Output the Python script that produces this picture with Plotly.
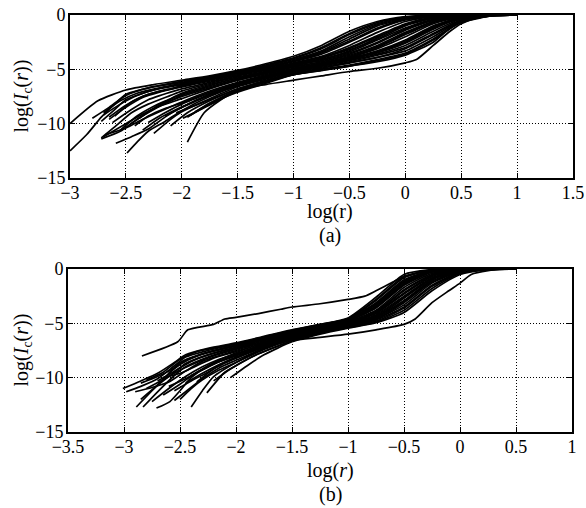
import plotly.graph_objects as go

# ---------------- Panel (a): log(Ic(r)) vs log(r) ----------------
a01 = [(-3, -10), (-2.75, -7.9), (-2.5, -6.9), (-2.25, -6.4), (-2, -6.0), (-1.75, -5.6), (-1.5, -5.1), (-1.25, -4.5), (-1, -3.8), (-0.75, -2.8), (-0.5, -1.5), (-0.25, -0.6), (0, -0.15), (0.25, 0)]
a02 = [(-3, -12.5), (-2.85, -11), (-2.72, -9.4), (-2.6, -8.2), (-2.5, -7.3), (-2.25, -6.6), (-2, -6.1), (-1.75, -5.7), (-1.5, -5.2), (-1.25, -4.7), (-1, -4.0), (-0.75, -3.1), (-0.5, -1.8), (-0.25, -0.8), (0, -0.25), (0.25, -0.05), (0.5, 0)]
a03 = [(-2.72, -9.8), (-2.6, -8.7), (-2.5, -7.8), (-2.25, -6.9), (-2, -6.3), (-1.75, -5.8), (-1.5, -5.3), (-1.25, -4.8), (-1, -4.2), (-0.75, -3.4), (-0.5, -2.2), (-0.25, -1.0), (0, -0.35), (0.25, -0.1), (0.5, 0)]
a04 = [(-2.7, -9.2), (-2.55, -8.2), (-2.4, -7.4), (-2.25, -6.9), (-2, -6.4), (-1.75, -5.9), (-1.5, -5.4), (-1.25, -4.9), (-1, -4.3), (-0.75, -3.6), (-0.5, -2.5), (-0.25, -1.3), (0, -0.45), (0.25, -0.1), (0.5, 0)]
a05 = [(-2.65, -9.6), (-2.5, -8.5), (-2.35, -7.6), (-2.2, -7.1), (-2, -6.6), (-1.75, -6.0), (-1.5, -5.5), (-1.25, -5.0), (-1, -4.4), (-0.75, -3.8), (-0.5, -2.8), (-0.25, -1.6), (0, -0.6), (0.25, -0.15), (0.5, 0)]
a06 = [(-2.62, -9.9), (-2.45, -8.7), (-2.3, -7.8), (-2.1, -7.1), (-2, -6.8), (-1.75, -6.2), (-1.5, -5.6), (-1.25, -5.1), (-1, -4.5), (-0.75, -3.9), (-0.5, -3.0), (-0.25, -1.9), (0, -0.8), (0.25, -0.2), (0.5, -0.02), (0.75, 0)]
a07 = [(-2.72, -11.3), (-2.6, -10.3), (-2.45, -9.0), (-2.3, -8.2), (-2.1, -7.4), (-2, -7.0), (-1.75, -6.3), (-1.5, -5.7), (-1.25, -5.2), (-1, -4.6), (-0.75, -4.0), (-0.5, -3.1), (-0.25, -2.0), (0, -0.9), (0.25, -0.3), (0.5, -0.05), (0.75, 0)]
a08 = [(-2.72, -11.4), (-2.55, -10.7), (-2.4, -9.6), (-2.25, -8.7), (-2.1, -7.9), (-2, -7.4), (-1.75, -6.6), (-1.5, -5.9), (-1.25, -5.3), (-1, -4.7), (-0.75, -4.1), (-0.5, -3.4), (-0.25, -2.3), (0, -1.2), (0.25, -0.4), (0.5, -0.08), (0.75, 0)]
a09 = [(-2.7, -11.2), (-2.5, -10.0), (-2.35, -9.1), (-2.2, -8.4), (-2, -7.7), (-1.75, -6.8), (-1.5, -6.0), (-1.25, -5.4), (-1, -4.8), (-0.75, -4.3), (-0.5, -3.6), (-0.25, -2.6), (0, -1.4), (0.25, -0.5), (0.5, -0.1), (0.75, 0)]
a10 = [(-2.68, -11.0), (-2.5, -10.4), (-2.35, -9.6), (-2.2, -8.9), (-2, -8.0), (-1.75, -7.0), (-1.5, -6.2), (-1.25, -5.5), (-1, -4.9), (-0.75, -4.4), (-0.5, -3.8), (-0.25, -2.9), (0, -1.7), (0.25, -0.6), (0.5, -0.12), (0.75, 0)]
a11 = [(-2.59, -11.8), (-2.45, -11.2), (-2.3, -10.5), (-2.15, -9.4), (-2, -8.5), (-1.75, -7.3), (-1.5, -6.4), (-1.25, -5.7), (-1, -5.0), (-0.75, -4.5), (-0.5, -3.9), (-0.25, -3.1), (0, -2.0), (0.25, -0.8), (0.5, -0.15), (0.75, 0)]
a12 = [(-2.49, -12.7), (-2.4, -11.7), (-2.3, -10.7), (-2.15, -9.8), (-2, -8.8), (-1.75, -7.5), (-1.5, -6.5), (-1.25, -5.8), (-1, -5.1), (-0.75, -4.6), (-0.5, -4.0), (-0.25, -3.3), (0, -2.3), (0.25, -1.0), (0.5, -0.2), (0.75, 0)]
a13 = [(-2.42, -10.2), (-2.3, -9.3), (-2.15, -8.6), (-2, -8.1), (-1.75, -7.1), (-1.5, -6.3), (-1.25, -5.6), (-1, -5.0), (-0.75, -4.5), (-0.5, -4.0), (-0.25, -3.4), (0, -2.5), (0.25, -1.2), (0.5, -0.25), (0.75, -0.02), (1, 0)]
a14 = [(-2.38, -9.5), (-2.25, -8.6), (-2.1, -7.9), (-2, -7.5), (-1.75, -6.7), (-1.5, -6.0), (-1.25, -5.4), (-1, -4.8), (-0.75, -4.3), (-0.5, -3.7), (-0.25, -2.8), (0, -1.6), (0.25, -0.6), (0.5, -0.1), (0.75, 0)]
a15 = [(-2.25, -10.9), (-2.1, -9.6), (-2, -8.9), (-1.75, -7.7), (-1.5, -6.6), (-1.25, -5.9), (-1, -5.2), (-0.75, -4.7), (-0.5, -4.2), (-0.25, -3.6), (0, -2.8), (0.25, -1.5), (0.5, -0.35), (0.75, -0.03), (1, 0)]
a16 = [(-1.99, -9.5), (-1.85, -8.8), (-1.7, -8.0), (-1.5, -7.0), (-1.25, -6.1), (-1, -5.4), (-0.75, -4.9), (-0.5, -4.4), (-0.25, -3.9), (0, -3.3), (0.25, -2.0), (0.5, -0.5), (0.75, -0.05), (1, 0)]
a17 = [(-1.95, -11.7), (-1.8, -9.0), (-1.65, -7.8), (-1.5, -6.9), (-1.25, -6.4), (-1, -6.0), (-0.75, -5.6), (-0.5, -5.2), (-0.25, -4.9), (0, -4.4), (0.1, -4.1), (0.25, -2.8), (0.4, -1.5), (0.5, -0.8), (0.65, -0.25), (0.8, -0.05), (0.95, 0)]
a18 = [(-2.6, -9.3), (-2.45, -8.0), (-2.3, -7.3), (-2.1, -6.8), (-2, -6.5), (-1.75, -5.9), (-1.5, -5.35), (-1.25, -4.85), (-1, -4.25), (-0.75, -3.5), (-0.5, -2.4), (-0.25, -1.2), (0, -0.4), (0.25, -0.08), (0.5, 0)]
a19 = [(-2.65, -9.4), (-2.5, -8.3), (-2.35, -7.5), (-2.2, -7.0), (-2, -6.6), (-1.75, -6.1), (-1.5, -5.5), (-1.25, -5.0), (-1, -4.5), (-0.75, -3.9), (-0.5, -3.2), (-0.25, -2.2), (0, -1.0), (0.25, -0.3), (0.5, -0.05), (0.75, 0)]
a20 = [(-2.45, -10.0), (-2.3, -8.9), (-2.15, -8.0), (-2, -7.3), (-1.75, -6.5), (-1.5, -5.8), (-1.25, -5.25), (-1, -4.65), (-0.75, -4.1), (-0.5, -3.3), (-0.25, -2.1), (0, -0.9), (0.25, -0.25), (0.5, -0.03), (0.75, 0)]
a21 = [(-2.3, -9.9), (-2.15, -9.0), (-2, -8.2), (-1.75, -7.2), (-1.5, -6.3), (-1.25, -5.6), (-1, -5.0), (-0.75, -4.5), (-0.5, -3.9), (-0.25, -3.0), (0, -1.8), (0.25, -0.7), (0.5, -0.15), (0.75, 0)]
a22 = [(-2.15, -9.3), (-2, -8.5), (-1.75, -7.4), (-1.5, -6.5), (-1.25, -5.8), (-1, -5.2), (-0.75, -4.7), (-0.5, -4.1), (-0.25, -3.5), (0, -2.6), (0.25, -1.3), (0.5, -0.3), (0.75, -0.02), (1, 0)]
a23 = [(-1.92, -9.2), (-1.75, -8.1), (-1.5, -6.9), (-1.25, -6.1), (-1, -5.4), (-0.75, -4.9), (-0.5, -4.4), (-0.25, -3.9), (0, -3.1), (0.25, -1.8), (0.5, -0.5), (0.75, -0.05), (1, 0)]
a24 = [(-1.88, -8.9), (-1.7, -7.9), (-1.5, -7.0), (-1.25, -6.2), (-1, -5.5), (-0.75, -5.0), (-0.5, -4.6), (-0.25, -4.1), (0, -3.5), (0.25, -2.2), (0.5, -0.6), (0.75, -0.08), (1, 0)]
a25 = [(-2.05, -9.0), (-1.85, -8.2), (-1.65, -7.4), (-1.5, -6.8), (-1.25, -6.0), (-1, -5.3), (-0.75, -4.8), (-0.5, -4.3), (-0.25, -3.7), (0, -3.0), (0.25, -1.7), (0.5, -0.45), (0.75, -0.04), (1, 0)]
a26 = [(-2.7, -9.0), (-2.55, -7.9), (-2.4, -7.2), (-2.2, -6.7), (-2, -6.3), (-1.75, -5.8), (-1.5, -5.2), (-1.25, -4.7), (-1, -4.1), (-0.75, -3.3), (-0.5, -2.0), (-0.25, -0.9), (0, -0.3), (0.25, -0.05), (0.5, 0)]
a27 = [(-2.55, -10.6), (-2.4, -9.3), (-2.25, -8.4), (-2.1, -7.7), (-2, -7.2), (-1.75, -6.4), (-1.5, -5.8), (-1.25, -5.2), (-1, -4.6), (-0.75, -4.2), (-0.5, -3.5), (-0.25, -2.5), (0, -1.3), (0.25, -0.45), (0.5, -0.08), (0.75, 0)]
a28 = [(-2.35, -10.6), (-2.2, -9.5), (-2.05, -8.7), (-1.9, -8.0), (-1.75, -7.3), (-1.5, -6.4), (-1.25, -5.7), (-1, -5.1), (-0.75, -4.6), (-0.5, -4.1), (-0.25, -3.4), (0, -2.4), (0.25, -1.1), (0.5, -0.25), (0.75, -0.02), (1, 0)]
a29 = [(-2.8, -9.5), (-2.65, -8.5), (-2.5, -7.4), (-2.3, -6.7), (-2, -6.2), (-1.75, -5.7), (-1.5, -5.2), (-1.25, -4.6), (-1, -3.95), (-0.75, -3.0), (-0.5, -1.7), (-0.25, -0.7), (0, -0.2), (0.25, -0.03), (0.5, 0)]
a30 = [(-1.95, -9.4), (-1.8, -8.5), (-1.6, -7.5), (-1.5, -7.1), (-1.25, -6.3), (-1, -5.5), (-0.75, -5.1), (-0.5, -4.7), (-0.25, -4.3), (0, -3.7), (0.25, -2.5), (0.4, -1.2), (0.5, -0.7), (0.75, -0.1), (1, 0)]
a31 = [(-2.1, -10.2), (-1.95, -9.0), (-1.75, -7.9), (-1.5, -6.8), (-1.25, -6.1), (-1, -5.5), (-0.75, -5.1), (-0.5, -4.7), (-0.25, -4.2), (0, -3.6), (0.25, -2.3), (0.5, -0.65), (0.75, -0.08), (1, 0)]

# ---------------- Panel (b) ----------------
b01 = [(-2.84, -8.0), (-2.52, -6.7), (-2.43, -5.6), (-2.2, -5.1), (-2.1, -4.6), (-2, -4.45), (-1.8, -4.1), (-1.6, -3.7), (-1.5, -3.5), (-1.25, -3.2), (-1, -2.8), (-0.85, -2.5), (-0.75, -2.0), (-0.6, -1.2), (-0.5, -0.7), (-0.35, -0.3), (-0.2, -0.1), (0, 0)]
b02 = [(-3.01, -11.0), (-2.85, -10.3), (-2.7, -9.6), (-2.55, -8.6), (-2.45, -7.9), (-2.25, -7.3), (-2, -6.8), (-1.75, -6.2), (-1.5, -5.6), (-1.25, -5.1), (-1, -4.5), (-0.75, -2.6), (-0.5, -0.5), (-0.25, -0.05), (0, 0)]
b03 = [(-2.98, -11.3), (-2.85, -10.8), (-2.7, -10.1), (-2.55, -8.9), (-2.45, -8.1), (-2.25, -7.5), (-2, -6.9), (-1.75, -6.3), (-1.5, -5.7), (-1.25, -5.2), (-1, -4.6), (-0.75, -2.9), (-0.5, -0.8), (-0.25, -0.1), (0, 0)]
b04 = [(-2.89, -12.7), (-2.75, -11.2), (-2.6, -9.6), (-2.5, -8.6), (-2.3, -7.8), (-2, -7.1), (-1.75, -6.4), (-1.5, -5.8), (-1.25, -5.3), (-1, -4.7), (-0.75, -3.3), (-0.5, -1.2), (-0.25, -0.2), (0, -0.02), (0.25, 0)]
b05 = [(-2.83, -12.7), (-2.7, -11.3), (-2.55, -9.8), (-2.45, -9.0), (-2.25, -8.1), (-2, -7.3), (-1.75, -6.6), (-1.5, -5.9), (-1.25, -5.35), (-1, -4.8), (-0.75, -3.6), (-0.5, -1.5), (-0.25, -0.3), (0, -0.03), (0.25, 0)]
b06 = [(-2.71, -12.8), (-2.59, -12.2), (-2.5, -11.2), (-2.4, -10.0), (-2.25, -8.9), (-2, -7.7), (-1.75, -6.8), (-1.5, -6.1), (-1.25, -5.5), (-1, -4.9), (-0.75, -3.9), (-0.5, -1.9), (-0.25, -0.5), (0, -0.06), (0.25, 0)]
b07 = [(-2.40, -12.7), (-2.3, -11.2), (-2.2, -9.9), (-2, -8.6), (-1.75, -7.3), (-1.5, -6.4), (-1.25, -5.7), (-1, -5.2), (-0.75, -4.5), (-0.5, -3.0), (-0.25, -1.1), (0, -0.2), (0.25, 0)]
b08 = [(-2.35, -10.4), (-2.2, -9.2), (-2, -8.2), (-1.75, -7.1), (-1.5, -6.3), (-1.25, -5.6), (-1, -5.1), (-0.75, -4.3), (-0.5, -2.6), (-0.25, -0.9), (0, -0.15), (0.25, 0)]
b09 = [(-2.26, -11.4), (-2.1, -9.5), (-2, -8.9), (-1.8, -7.8), (-1.6, -7.0), (-1.5, -6.6), (-1.25, -6.3), (-1, -6.0), (-0.75, -5.6), (-0.5, -5.1), (-0.4, -4.6), (-0.25, -3.1), (-0.1, -2.0), (0, -1.3), (0.1, -0.5), (0.25, -0.15), (0.4, -0.02), (0.5, 0)]
b10 = [(-2.9, -11.3), (-2.75, -10.9), (-2.6, -10.4), (-2.45, -9.4), (-2.3, -8.5), (-2, -7.5), (-1.75, -6.7), (-1.5, -6.0), (-1.25, -5.4), (-1, -4.85), (-0.75, -3.8), (-0.5, -1.7), (-0.25, -0.4), (0, -0.05), (0.25, 0)]
b11 = [(-2.85, -10.5), (-2.7, -9.9), (-2.55, -9.1), (-2.45, -8.4), (-2.25, -7.7), (-2, -7.0), (-1.75, -6.3), (-1.5, -5.75), (-1.25, -5.2), (-1, -4.65), (-0.75, -3.1), (-0.5, -1.0), (-0.25, -0.15), (0, 0)]
b12 = [(-2.8, -11.0), (-2.65, -10.2), (-2.5, -9.3), (-2.35, -8.6), (-2.2, -8.0), (-2, -7.4), (-1.75, -6.6), (-1.5, -6.0), (-1.25, -5.45), (-1, -4.9), (-0.75, -4.0), (-0.5, -2.2), (-0.25, -0.6), (0, -0.08), (0.25, 0)]
b13 = [(-2.75, -12.2), (-2.6, -11.0), (-2.45, -9.9), (-2.3, -9.0), (-2.15, -8.3), (-2, -7.8), (-1.75, -6.9), (-1.5, -6.2), (-1.25, -5.6), (-1, -5.05), (-0.75, -4.2), (-0.5, -2.5), (-0.25, -0.8), (0, -0.12), (0.25, 0)]
b14 = [(-2.65, -11.6), (-2.5, -10.6), (-2.35, -9.5), (-2.2, -8.7), (-2, -8.0), (-1.75, -7.0), (-1.5, -6.25), (-1.25, -5.65), (-1, -5.15), (-0.75, -4.4), (-0.5, -2.9), (-0.25, -1.0), (0, -0.18), (0.25, 0)]
b15 = [(-2.6, -10.8), (-2.45, -10.1), (-2.3, -9.3), (-2.15, -8.5), (-2, -7.9), (-1.75, -7.0), (-1.5, -6.3), (-1.25, -5.7), (-1, -5.2), (-0.75, -4.6), (-0.5, -3.3), (-0.25, -1.3), (0, -0.25), (0.25, -0.02), (0.5, 0)]
b16 = [(-2.55, -12.1), (-2.45, -11.3), (-2.3, -10.1), (-2.15, -9.1), (-2, -8.4), (-1.75, -7.3), (-1.5, -6.45), (-1.25, -5.8), (-1, -5.3), (-0.75, -4.7), (-0.5, -3.5), (-0.25, -1.5), (0, -0.3), (0.25, -0.03), (0.5, 0)]
b17 = [(-2.2, -10.3), (-2.05, -9.2), (-1.9, -8.3), (-1.75, -7.6), (-1.5, -6.6), (-1.25, -5.9), (-1, -5.4), (-0.75, -4.9), (-0.5, -3.8), (-0.25, -1.8), (0, -0.4), (0.25, -0.05), (0.5, 0)]
b18 = [(-2.45, -10.5), (-2.3, -9.6), (-2.15, -8.8), (-2, -8.1), (-1.75, -7.1), (-1.5, -6.3), (-1.25, -5.7), (-1, -5.1), (-0.75, -4.4), (-0.5, -2.7), (-0.25, -0.9), (0, -0.12), (0.25, 0)]
b19 = [(-2.7, -10.3), (-2.55, -9.4), (-2.4, -8.5), (-2.25, -7.9), (-2, -7.2), (-1.75, -6.5), (-1.5, -5.9), (-1.25, -5.3), (-1, -4.75), (-0.75, -3.5), (-0.5, -1.4), (-0.25, -0.25), (0, -0.02), (0.25, 0)]
b20 = [(-2.6, -9.6), (-2.5, -8.8), (-2.35, -8.0), (-2.2, -7.5), (-2, -7.0), (-1.75, -6.35), (-1.5, -5.7), (-1.25, -5.15), (-1, -4.55), (-0.75, -2.8), (-0.5, -0.7), (-0.25, -0.08), (0, 0)]
b21 = [(-2.5, -12.0), (-2.4, -11.0), (-2.3, -10.2), (-2.15, -9.3), (-2, -8.6), (-1.75, -7.4), (-1.5, -6.5), (-1.25, -5.9), (-1, -5.35), (-0.75, -4.8), (-0.5, -3.6), (-0.25, -1.6), (0, -0.35), (0.25, -0.04), (0.5, 0)]
b22 = [(-2.8, -10.2), (-2.65, -9.5), (-2.5, -8.3), (-2.35, -7.6), (-2.1, -7.1), (-2, -6.9), (-1.75, -6.25), (-1.5, -5.65), (-1.25, -5.1), (-1, -4.6), (-0.75, -3.2), (-0.5, -1.1), (-0.25, -0.15), (0, 0)]
b23 = [(-2.4, -9.8), (-2.25, -9.0), (-2.1, -8.3), (-2, -7.9), (-1.75, -6.9), (-1.5, -6.2), (-1.25, -5.55), (-1, -5.0), (-0.75, -4.1), (-0.5, -2.3), (-0.25, -0.7), (0, -0.1), (0.25, 0)]
b24 = [(-2.05, -10.0), (-1.9, -8.9), (-1.75, -7.9), (-1.5, -6.7), (-1.25, -6.0), (-1, -5.45), (-0.75, -4.95), (-0.5, -4.0), (-0.25, -2.0), (0, -0.5), (0.25, -0.06), (0.5, 0)]
b25 = [(-2.65, -10.0), (-2.5, -9.6), (-2.35, -8.9), (-2.2, -8.2), (-2, -7.6), (-1.75, -6.8), (-1.5, -6.1), (-1.25, -5.5), (-1, -4.95), (-0.75, -4.0), (-0.5, -2.0), (-0.25, -0.55), (0, -0.07), (0.25, 0)]
b26 = [(-2.55, -11.2), (-2.4, -10.3), (-2.25, -9.5), (-2.1, -8.6), (-2, -8.2), (-1.75, -7.2), (-1.5, -6.35), (-1.25, -5.75), (-1, -5.25), (-0.75, -4.6), (-0.5, -3.1), (-0.25, -1.2), (0, -0.2), (0.25, 0)]
b27 = [(-2.85, -12.0), (-2.7, -10.7), (-2.55, -9.5), (-2.45, -8.7), (-2.25, -7.9), (-2, -7.2), (-1.75, -6.45), (-1.5, -5.85), (-1.25, -5.25), (-1, -4.7), (-0.75, -3.4), (-0.5, -1.3), (-0.25, -0.2), (0, 0)]

curves_a = [a01, a02, a03, a04, a05, a06, a07, a08, a09, a10, a11, a12, a13, a14, a15, a16,
            a17, a18, a19, a20, a21, a22, a23, a24, a25, a26, a27, a28, a29, a30, a31]
curves_b = [b01, b02, b03, b04, b05, b06, b07, b08, b09, b10, b11, b12, b13, b14, b15, b16,
            b17, b18, b19, b20, b21, b22, b23, b24, b25, b26, b27]

xticks_a = [-3, -2.5, -2, -1.5, -1, -0.5, 0, 0.5, 1, 1.5]
xticks_b = [-3.5, -3, -2.5, -2, -1.5, -1, -0.5, 0, 0.5, 1]
yticks = [-15, -10, -5, 0]

FONT = "Liberation Serif, Times New Roman, serif"
W, H = 586, 508

fig = go.Figure()
for c in curves_a:
    fig.add_trace(go.Scatter(x=[p[0] for p in c], y=[p[1] for p in c], mode="lines",
                             line=dict(color="black", width=1.7, shape="spline", smoothing=0.6),
                             xaxis="x", yaxis="y", showlegend=False, hoverinfo="skip"))
for c in curves_b:
    fig.add_trace(go.Scatter(x=[p[0] for p in c], y=[p[1] for p in c], mode="lines",
                             line=dict(color="black", width=1.7, shape="spline", smoothing=0.6),
                             xaxis="x2", yaxis="y2", showlegend=False, hoverinfo="skip"))

common = dict(showline=True, mirror="ticks", linecolor="black", linewidth=2,
              ticks="inside", ticklen=5, tickcolor="black", tickwidth=1,
              showgrid=True, gridcolor="black", gridwidth=1, griddash="1px,2px",
              zeroline=False, automargin=False,
              tickfont=dict(family=FONT, size=18, color="black"))

def xax(domain, rng, ticks, anchor):
    return dict(domain=domain, range=rng, tickvals=ticks, anchor=anchor,
                ticklabelstandoff=-3, **common)

def yax(domain, anchor):
    return dict(domain=domain, range=[-15, 0], tickvals=yticks, anchor=anchor,
                ticklabelstandoff=-1, **common)

fig.update_layout(
    width=W, height=H, margin=dict(l=0, r=0, t=0, b=0),
    paper_bgcolor="white", plot_bgcolor="white",
    xaxis=xax([70 / W, 573 / W], [-3, 1.5], xticks_a, "y"),
    yaxis=yax([1 - 178 / H, 1 - 15 / H], "x"),
    xaxis2=xax([68 / W, 572 / W], [-3.5, 1], xticks_b, "y2"),
    yaxis2=yax([1 - 432 / H, 1 - 269 / H], "x2"),
    font=dict(family=FONT, color="black"),
)

ann = [
    dict(text="log(r)", x=330 / W, y=1 - 212 / H),
    dict(text="(a)", x=330 / W, y=1 - 235 / H),
    dict(text="log(<i>r</i>)", x=330 / W, y=1 - 470 / H),
    dict(text="(b)", x=330 / W, y=1 - 494 / H),
]
for a in ann:
    fig.add_annotation(xref="paper", yref="paper", x=a["x"], y=a["y"], text=a["text"],
                       showarrow=False, xanchor="center", yanchor="middle",
                       font=dict(family=FONT, size=20, color="black"))
for yc in [(15 + 178) / 2, (269 + 432) / 2]:
    fig.add_annotation(xref="paper", yref="paper", x=22 / W, y=1 - yc / H,
                       text="log(<i>I</i><sub>c</sub>(<i>r</i>))", textangle=-90,
                       showarrow=False, xanchor="center", yanchor="middle",
                       font=dict(family=FONT, size=20, color="black"))

fig.write_html("out.html", config={"displayModeBar": False},
               post_script="document.body.style.margin='0px';document.body.style.overflow='hidden';")
